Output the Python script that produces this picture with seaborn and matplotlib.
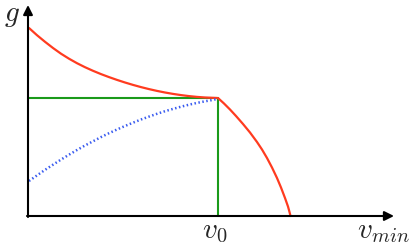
import matplotlib
matplotlib.use("Agg")
import matplotlib.pyplot as plt
import seaborn as sns

sns.set_theme(style="white")
plt.rcParams["mathtext.fontset"] = "cm"

# values (origin at the axes corner, units ~ pixels)
v0 = 190
g0 = 118

# red curve, left branch (v < v0)
red_left_x = [1, 9, 17, 25, 33, 41, 49, 57, 65, 73, 81, 89, 97, 105, 113,
              121, 129, 137, 145, 153, 161, 169, 177, 189]
red_left_y = [188, 180.8, 174.2, 168.0, 162.3, 157.3, 152.8, 148.8, 145.2,
              141.9, 138.9, 136.1, 133.5, 131.1, 128.9, 126.9, 125.1, 123.5,
              122.1, 120.9, 119.9, 119.1, 118.5, 118]

# red curve, right branch (v > v0)
red_right_x = [190, 196, 202, 208, 215, 222, 229, 234, 239, 244, 249, 253,
               257, 260, 261.5, 262.5]
red_right_y = [118, 112.5, 106.5, 100, 92, 83.5, 74, 66.5, 58, 48.5, 38,
               28.5, 18, 9.5, 4, 0]

# blue dotted curve
blue_x = [1, 9, 17, 25, 33, 41, 49, 57, 65, 73, 81, 89, 97, 105, 113, 121,
          129, 137, 145, 153, 161, 169, 177, 185, 189]
blue_y = [35, 40.6, 46.1, 51.3, 56.4, 61.3, 66.0, 70.5, 74.7, 78.9, 82.8,
          86.5, 90.0, 93.3, 96.5, 99.4, 102.2, 104.8, 107.1, 109.3, 111.3,
          113.1, 114.7, 116.1, 117]

fig, ax = plt.subplots(figsize=(4.15, 2.46), dpi=100)
ax.set_position([0, 0, 1, 1])
ax.set_xlim(-28, 387)
ax.set_ylim(-30, 216)
ax.axis("off")

# axes with arrows
ax.annotate("", xy=(366, 0), xytext=(-1, 0),
            arrowprops=dict(arrowstyle="-|>", color="black", lw=1.5,
                            mutation_scale=14, shrinkA=0, shrinkB=0))
ax.annotate("", xy=(0, 211), xytext=(0, -1),
            arrowprops=dict(arrowstyle="-|>", color="black", lw=1.5,
                            mutation_scale=14, shrinkA=0, shrinkB=0))

# green guides
ax.plot([0, v0], [g0, g0], color="#1a9a1a", lw=1.5)
ax.plot([v0, v0], [0, g0], color="#1a9a1a", lw=1.5)

sns.lineplot(x=red_left_x, y=red_left_y, ax=ax, color="#ff3b1f", lw=1.6,
             sort=False, estimator=None)
sns.lineplot(x=red_right_x, y=red_right_y, ax=ax, color="#ff3b1f", lw=1.6,
             sort=False, estimator=None)
sns.lineplot(x=blue_x, y=blue_y, ax=ax, color="#3a5cf0", lw=1.8,
             linestyle=(0, (0.6, 1.0)), sort=False, estimator=None)

ax.text(-16, 195, r"$g$", fontsize=21, ha="center", va="baseline")
ax.text(v0 - 3, -22, r"$v_0$", fontsize=21, ha="center", va="baseline")
ax.text(355, -22, r"$v_{min}$", fontsize=21, ha="center", va="baseline")

fig.savefig("out.png", dpi=100)
